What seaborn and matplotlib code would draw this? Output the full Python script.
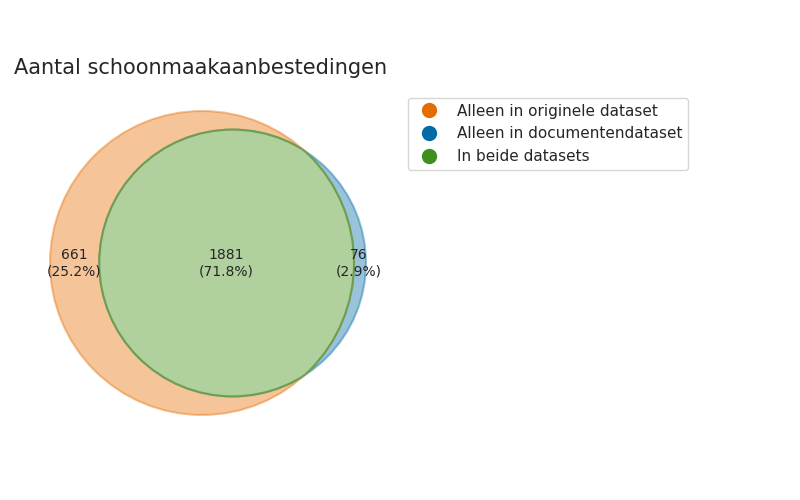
import matplotlib
matplotlib.use("Agg")
import matplotlib.pyplot as plt
import seaborn as sns
import numpy as np
from matplotlib.patches import Circle
from matplotlib.lines import Line2D

sns.set_theme(style="white")
plt.rcParams['font.family'] = ['DejaVu Sans']

title = "Aantal schoonmaakaanbestedingen"
labels = ["Alleen in originele dataset", "Alleen in documentendataset", "In beide datasets"]
counts = [661, 76, 1881]
colors = ["#e66c00", "#006ba4", "#3f8f1f"]

total = sum(counts)
fig = plt.figure(figsize=(8, 5), dpi=100)
ax = fig.add_axes([0, 0, 1, 1])
ax.set_xlim(0, 800); ax.set_ylim(500, 0); ax.axis("off")

k = 152 / np.sqrt(counts[0] + counts[2])
rA = k * np.sqrt(counts[0] + counts[2])
rB = k * np.sqrt(counts[1] + counts[2])
cy = 263
cA = (202, cy); cB = (366 - rB, cy)

ca = Circle(cA, rA, facecolor=colors[0], alpha=0.4, edgecolor=colors[0], lw=1.5)
ax.add_patch(ca)
ax.add_patch(Circle(cB, rB, facecolor=colors[1], alpha=0.4, edgecolor=colors[1], lw=1.5))
clip = Circle(cA, rA, transform=ax.transData, facecolor="none", edgecolor="none")
ax.add_patch(clip)
g = Circle(cB, rB, facecolor="#b0d09e", edgecolor="#6e9e4e", lw=1.5, zorder=3)
ax.add_patch(g); g.set_clip_path(clip)
ga = Circle(cA, rA, facecolor="none", edgecolor="#6e9e4e", lw=1.5, zorder=3)
ax.add_patch(ga); ga.set_clip_path(Circle(cB, rB, transform=ax.transData))

pos = [(74, 263), (359, 263), (226, 263)]
for (x, y), c in zip(pos, counts):
    ax.text(x, y, f"{c}\n({100*c/total:.1f}%)", ha="center", va="center", fontsize=10, color="#262626", zorder=5)

ax.text(14, 68, title, fontsize=15, ha="left", va="center", color="#262626")
handles = [Line2D([], [], marker="o", ls="", markersize=10, color=c) for c in colors]
fig.legend(handles, labels, loc="upper left", bbox_to_anchor=(400/800, 1-90/500), fontsize=11, frameon=True)
fig.savefig("out.png", dpi=100)
